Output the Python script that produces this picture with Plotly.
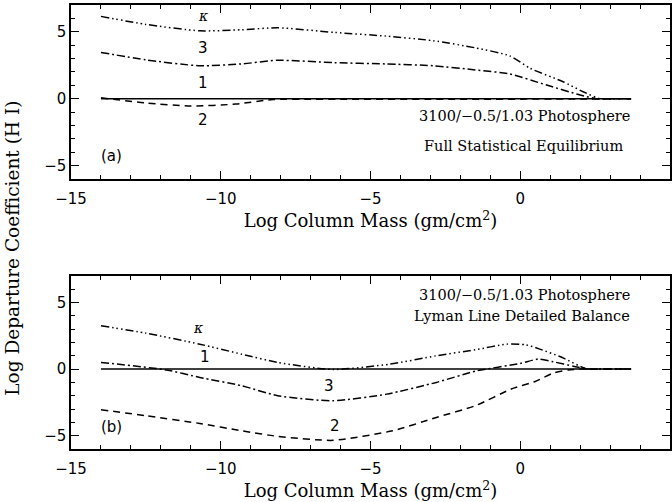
import plotly.graph_objects as go
from plotly.subplots import make_subplots

# ---- Panel (a): full statistical equilibrium ----
kappa_a_x = [-14, -12.5, -10.7, -9.3, -8.1, -6.2, -4.5, -2.9, -1.5, -0.35, 0.33, 1.43, 2.1, 2.66, 3.0, 3.4, 3.7]
kappa_a_y = [6.15, 5.55, 5.07, 5.15, 5.3, 4.95, 4.68, 4.33, 3.8, 3.2, 2.27, 1.27, 0.52, 0.0, 0.0, 0.0, 0.0]
lev3_a_x = [-14, -12.5, -10.7, -9.3, -8.1, -6.2, -4.5, -2.9, -1.5, -0.35, 0.88, 2.0, 2.55, 2.9, 3.3, 3.7]
lev3_a_y = [3.46, 2.9, 2.46, 2.6, 2.87, 2.69, 2.6, 2.46, 2.15, 1.85, 1.02, 0.28, 0.0, 0.0, 0.0, 0.0]
lev1_a_x = [-14, 3.7]
lev1_a_y = [0.0, 0.0]
lev2_a_x = [-14, -12.5, -11.0, -9.5, -8.25, -7.0, -6.0, -2.0, 2.0, 3.7]
lev2_a_y = [0.07, -0.32, -0.55, -0.4, -0.06, -0.04, -0.04, -0.04, -0.02, 0.0]

# ---- Panel (b): Lyman lines in detailed balance ----
kappa_b_x = [-14, -12.5, -10.7, -9.3, -8.1, -6.25, -4.35, -2.8, -1.5, -0.45, 0.2, 0.65, 1.4, 2.2, 2.6, 3.0, 3.7]
kappa_b_y = [3.25, 2.7, 1.87, 1.12, 0.5, -0.03, 0.37, 1.0, 1.45, 1.87, 1.82, 1.5, 0.87, 0.02, 0.0, 0.0, 0.0]
lev3_b_x = [-14, -11.8, -10.7, -9.3, -8.1, -6.25, -4.46, -2.8, -1.45, 0.0, 0.6, 1.1, 1.8, 2.33, 2.7, 3.1, 3.7]
lev3_b_y = [0.5, -0.07, -0.63, -1.25, -2.0, -2.38, -1.88, -1.0, -0.13, 0.42, 0.75, 0.55, 0.2, 0.0, 0.0, 0.0, 0.0]
lev1_b_x = [-14, 3.7]
lev1_b_y = [0.0, 0.0]
lev2_b_x = [-14, -12.5, -10.7, -9.3, -8.1, -6.25, -4.26, -2.8, -1.5, -0.3, 0.5, 1.1, 1.6, 2.0, 2.4, 3.7]
lev2_b_y = [-3.05, -3.5, -4.08, -4.63, -5.05, -5.35, -4.63, -3.63, -2.75, -1.5, -0.93, -0.3, -0.07, 0.0, 0.0, 0.0]

x_ticks = [-15, -10, -5, 0, 5]
x_tick_text = ["\u221215", "\u221210", "\u22125", "0", "5"]
y_ticks = [-5, 0, 5]
y_tick_text = ["\u22125", "0", "5"]

DASH_K = "8px,3px,1.5px,3px,1.5px,3px,1.5px,3px"
DASH_3 = "8px,3px,2px,3px"
DASH_2 = "7px,5px"

fig = make_subplots(rows=2, cols=1, vertical_spacing=0.218)

panels = [
    (1, kappa_a_x, kappa_a_y, lev3_a_x, lev3_a_y, lev1_a_x, lev1_a_y, lev2_a_x, lev2_a_y),
    (2, kappa_b_x, kappa_b_y, lev3_b_x, lev3_b_y, lev1_b_x, lev1_b_y, lev2_b_x, lev2_b_y),
]
for row, kx, ky, x3, y3, x1, y1, x2, y2 in panels:
    for xs, ys, dash in [(x1, y1, "solid"), (x2, y2, DASH_2), (x3, y3, DASH_3), (kx, ky, DASH_K)]:
        fig.add_trace(
            go.Scatter(x=xs, y=ys, mode="lines",
                       line=dict(color="black", width=1.5, dash=dash, shape="spline", smoothing=0.6),
                       showlegend=False, hoverinfo="skip"),
            row=row, col=1,
        )

tick_font = dict(family="DejaVu Sans", size=15, color="black")
serif = "DejaVu Serif"

for row in (1, 2):
    fig.update_xaxes(
        range=[-15, 5], tickvals=x_ticks, ticktext=x_tick_text,
        ticks="inside", ticklen=8, tickwidth=1, tickcolor="black", ticklabelstandoff=5,
        minor=dict(dtick=1, ticks="inside", ticklen=4, tickcolor="black", tickwidth=1),
        showline=True, linecolor="black", linewidth=1.5, mirror="allticks",
        showgrid=False, zeroline=False, tickfont=tick_font, automargin=False,
        title=dict(text="Log Column Mass (gm/cm<sup>2</sup>)", font=dict(family=serif, size=18, color="black"), standoff=1),
        row=row, col=1,
    )
    fig.update_yaxes(
        range=[-6, 7], tickvals=y_ticks, ticktext=y_tick_text,
        ticks="inside", ticklen=8, tickwidth=1, tickcolor="black",
        minor=dict(dtick=1, tick0=0, ticks="inside", ticklen=4, tickcolor="black", tickwidth=1),
        showline=True, linecolor="black", linewidth=1.5, mirror="allticks",
        showgrid=False, zeroline=False, tickfont=tick_font, automargin=False,
        row=row, col=1,
    )

label_font = dict(family="DejaVu Sans", size=15, color="black")
kappa_font = dict(family="DejaVu Serif", size=14, color="black")
note_font = dict(family=serif, size=14.5, color="black")
notes = [
    # panel (a)
    ("x", "y", -10.58, 6.15, "<i>\u03ba</i>", kappa_font, "center"),
    ("x", "y", -10.58, 3.8, "3", label_font, "center"),
    ("x", "y", -10.58, 1.19, "1", label_font, "center"),
    ("x", "y", -10.6, -1.6, "2", label_font, "center"),
    ("x", "y", -13.64, -4.25, "(a)", label_font, "center"),
    ("x", "y", 3.72, -1.27, "3100/\u22120.5/1.03 Photosphere", note_font, "right"),
    ("x", "y", 3.5, -3.5, "Full Statistical Equilibrium", note_font, "right"),
    # panel (b)
    ("x2", "y2", -10.75, 3.12, "<i>\u03ba</i>", kappa_font, "center"),
    ("x2", "y2", -10.53, 0.92, "1", label_font, "center"),
    ("x2", "y2", -6.37, -1.3, "3", label_font, "center"),
    ("x2", "y2", -6.17, -4.25, "2", label_font, "center"),
    ("x2", "y2", -13.64, -4.38, "(b)", label_font, "center"),
    ("x2", "y2", 3.72, 5.55, "3100/\u22120.5/1.03 Photosphere", note_font, "right"),
    ("x2", "y2", 3.72, 3.95, "Lyman Line Detailed Balance", note_font, "right"),
]
for xr, yr, x, y, txt, font, anchor in notes:
    fig.add_annotation(xref=xr, yref=yr, x=x, y=y, text=txt, showarrow=False,
                       font=font, xanchor=anchor, yanchor="middle")

fig.add_annotation(xref="paper", yref="paper", x=-0.097, y=0.453,
                   text="Log Departure Coefficient (H I)", textangle=-90, showarrow=False,
                   font=dict(family=serif, size=18.5, color="black"), xanchor="center", yanchor="middle")

fig.update_layout(
    width=672, height=502,
    margin=dict(l=71, r=2, t=5, b=53),
    paper_bgcolor="white", plot_bgcolor="white",
)
fig.update_layout(yaxis=dict(domain=[0.608, 1.0]), yaxis2=dict(domain=[0.0, 0.39]))

fig.write_html("out.html")
